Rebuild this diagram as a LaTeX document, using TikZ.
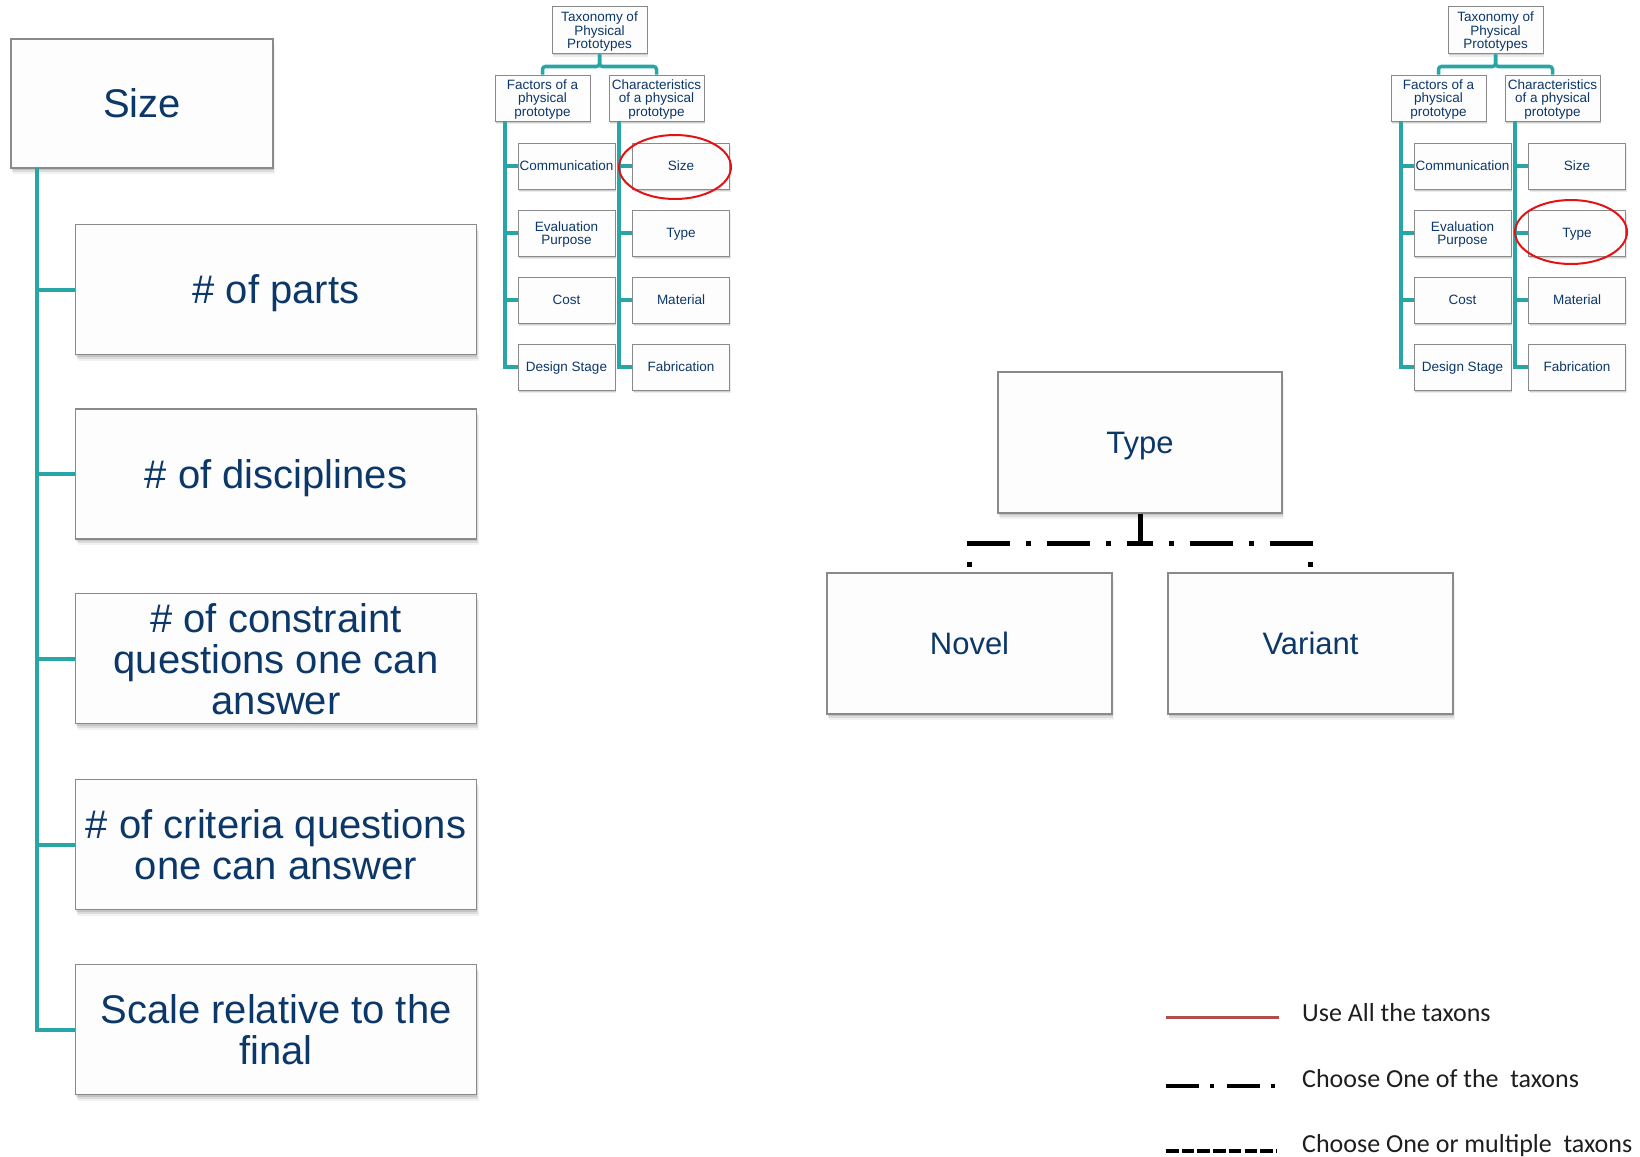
\documentclass[tikz,border=0pt]{standalone}
\usepackage{fontspec}
\setmainfont{Liberation Sans}
\newfontfamily\legendfont{Carlito}
\usetikzlibrary{shadows}

\definecolor{navytext}{RGB}{12,55,105}
\definecolor{branchteal}{RGB}{40,166,166}
\definecolor{boxline}{RGB}{138,138,138}
\definecolor{boxfill}{RGB}{253,253,253}
\definecolor{ringred}{RGB}{228,18,18}
\definecolor{legendred}{RGB}{176,78,78}
\definecolor{legendtext}{RGB}{30,30,30}

\tikzset{
  softshadow/.style={
    general shadow={shadow xshift=0.8pt, shadow yshift=-2pt, fill=black, opacity=0.10},
    general shadow={shadow xshift=1.4pt, shadow yshift=-4pt, fill=black, opacity=0.09},
    general shadow={shadow xshift=2pt, shadow yshift=-6pt, fill=black, opacity=0.05}},
  tinyshadow/.style={
    general shadow={shadow xshift=0.6pt, shadow yshift=-1.5pt, fill=black, opacity=0.12},
    general shadow={shadow xshift=1pt, shadow yshift=-3pt, fill=black, opacity=0.08}},
  bigbox/.style={draw=boxline, line width=1.5pt, fill=boxfill, inner sep=0pt,
    align=center, text=navytext, font=\fontsize{40}{41}\selectfont, text depth=0pt,
    softshadow},
  kindbox/.style={bigbox, minimum width=285pt, minimum height=141pt,
    font=\fontsize{31}{33}\selectfont},
  factorbox/.style={bigbox, minimum width=401pt, minimum height=130pt},
  tinybox/.style={draw=boxline, line width=1pt, fill=boxfill, inner sep=0pt,
    align=center, text=navytext, font=\fontsize{13.5}{13.6}\selectfont, text depth=0pt,
    tinyshadow, minimum width=95pt, minimum height=46pt},
  leafbox/.style={tinybox, minimum width=97pt},
  mainbranch/.style={draw=branchteal, line width=4pt},
  smallbranch/.style={draw=branchteal, line width=3.5pt},
  choiceline/.style={draw=black, line width=5pt, dash pattern=on 43pt off 16pt on 5pt off 16pt},
  ring/.style={draw=ringred, line width=2pt},
  legendlabel/.style={anchor=base west, inner sep=0pt, text=legendtext,
    font=\legendfont\fontsize{26}{28}\selectfont}
}

% one copy of the small taxonomy tree: #1 = name prefix, #2 = horizontal offset
\newcommand\taxchart[2]{%
  \node[tinybox, minimum height=47pt] (#1tax) at ({#2+599.5},30.5) {Taxonomy of\\Physical\\Prototypes};
  \node[tinybox] (#1fac) at ({#2+542.5},98) {Factors of a\\physical\\prototype};
  \node[tinybox] (#1cha) at ({#2+656.5},98) {Characteristics\\of a physical\\prototype};
  \node[leafbox] (#1com) at ({#2+566.5},166) {Communication};
  \node[leafbox] (#1eva) at ({#2+566.5},233) {Evaluation\\Purpose};
  \node[leafbox] (#1cos) at ({#2+566.5},300) {Cost};
  \node[leafbox] (#1des) at ({#2+566.5},367) {Design Stage};
  \node[leafbox] (#1siz) at ({#2+681},166) {Size};
  \node[leafbox] (#1typ) at ({#2+681},233) {Type};
  \node[leafbox] (#1mat) at ({#2+681},300) {Material};
  \node[leafbox] (#1fab) at ({#2+681},367) {Fabrication};
  \coordinate (#1ftrunk) at ({#2+505},121);
  \coordinate (#1ctrunk) at ({#2+619},121);
  \draw[smallbranch, rounded corners=3pt] (#1tax.south) -- ++(0,12) -| (#1fac.north);
  \draw[smallbranch, rounded corners=3pt] (#1tax.south) -- ++(0,12) -| (#1cha.north);
  \draw[smallbranch] (#1ftrunk) |- (#1des.west);
  \draw[smallbranch] (#1ctrunk) |- (#1fab.west);
  \foreach \n in {com,eva,cos} \draw[smallbranch] (#1ftrunk |- #1\n.west) -- (#1\n.west);
  \foreach \n in {siz,typ,mat} \draw[smallbranch] (#1ctrunk |- #1\n.west) -- (#1\n.west);
}

\begin{document}
\begin{tikzpicture}[x=1pt, y=-1pt]
  \useasboundingbox (0,0) rectangle (1640,1156);

  % ---- Size and its factors ----
  \node[bigbox, minimum width=262pt, minimum height=129pt] (sizebox) at (142,103.5) {Size};
  \node[factorbox] (parts)  at (276,289.5) {\# of parts};
  \node[factorbox] (disc)   at (276,474)   {\# of disciplines};
  \node[factorbox] (constr) at (276,658.5) {\# of constraint\\questions one can\\answer};
  \node[factorbox] (crit)   at (276,844.5) {\# of criteria questions\\one can answer};
  \node[factorbox] (scale)  at (276,1029.5) {Scale relative to the\\final};

  \coordinate (trunk) at (37,168);
  \draw[mainbranch] (trunk) |- (scale.west);
  \foreach \n in {parts,disc,constr,crit} \draw[mainbranch] (trunk |- \n.west) -- (\n.west);

  % ---- the two small taxonomy trees ----
  \taxchart{L}{0}
  \taxchart{R}{896}

  % ---- Type and its kinds ----
  \node[kindbox, minimum width=284pt] (type) at (1140,442.5) {Type};
  \node[kindbox] (novel)   at (969.5,643.5)  {Novel};
  \node[kindbox] (variant) at (1310.5,643.5) {Variant};
  \draw[choiceline] (type.south) -- ++(0,30) -| (novel.north);
  \draw[choiceline] (type.south) -- ++(0,30) -| (variant.north);

  % ---- highlight rings ----
  \draw[ring] (675,167) ellipse [x radius=56pt, y radius=32pt];
  \draw[ring] (1571,232) ellipse [x radius=56pt, y radius=32pt];

  % ---- legend ----
  \coordinate (alla) at (1166,1017);
  \coordinate (allb) at (1279,1017);
  \coordinate (onea) at (1166,1086);
  \coordinate (oneb) at (1277,1086);
  \coordinate (multa) at (1166,1151);
  \coordinate (multb) at (1277,1151);
  \draw[legendred, line width=3pt] (alla) -- (allb);
  \draw[black, line width=4pt, dash pattern=on 33pt off 11pt on 4pt off 13pt] (onea) -- (oneb);
  \draw[black, line width=4pt, dash pattern=on 12.5pt off 3.2pt] (multa) -- (multb);
  \node[legendlabel] (alltext)  at (1302,1021) {Use All the taxons};
  \node[legendlabel] (onetext)  at (1302,1087) {Choose One of the\hspace{0.45em}taxons};
  \node[legendlabel] (multtext) at (1302,1152) {Choose One or multiple\hspace{0.45em}taxons};
\end{tikzpicture}
\end{document}
